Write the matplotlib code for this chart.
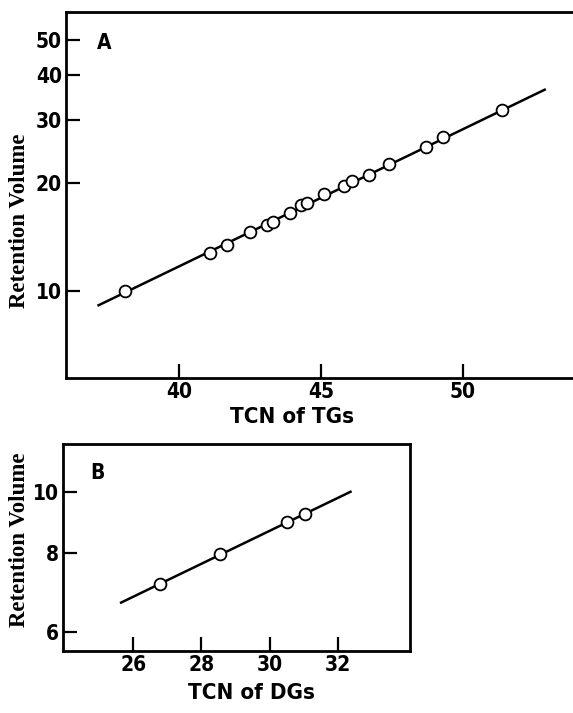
import matplotlib
matplotlib.use("Agg")
import matplotlib.pyplot as plt
from matplotlib.ticker import FixedLocator, FixedFormatter, NullLocator

# Panel A: triglycerides
tcn_tg = [38.1, 41.1, 41.7, 42.5, 43.1, 43.3, 43.9, 44.3, 44.5, 45.1, 45.8, 46.1, 46.7, 47.4, 48.7, 49.3, 51.4]
vol_tg = [10.0, 12.7, 13.4, 14.6, 15.2, 15.5, 16.5, 17.3, 17.6, 18.6, 19.6, 20.3, 21.0, 22.6, 25.2, 26.8, 32.0]
fit_tg_x = [37.15, 52.9]
fit_tg_y = [9.1, 36.4]
yticks_a = [10, 20, 30, 40, 50]
xticks_a = [40, 45, 50]

# Panel B: diglycerides
tcn_dg = [26.8, 28.55, 30.51, 31.03]
vol_dg = [7.16, 7.96, 8.95, 9.23]
fit_dg_x = [25.65, 32.36]
fit_dg_y = [6.68, 10.0]
yticks_b = [6, 8, 10]
xticks_b = [26, 28, 30, 32]

W, H = 573, 713
sans = dict(family='DejaVu Sans', fontstretch='condensed', fontweight='bold')

fig = plt.figure(figsize=(W / 100, H / 100), dpi=100)

axA = fig.add_axes([66 / W, 1 - 378 / H, (W - 66) / W, (378 - 12) / H])
axB = fig.add_axes([63 / W, 1 - 651 / H, (410 - 63) / W, (651 - 444) / H])


def style(ax, xt, yt):
    ax.set_yscale('log')
    ax.yaxis.set_major_locator(FixedLocator(yt))
    ax.yaxis.set_major_formatter(FixedFormatter([str(v) for v in yt]))
    ax.yaxis.set_minor_locator(NullLocator())
    ax.set_xticks(xt)
    ax.set_xticklabels([str(v) for v in xt])
    ax.tick_params(direction='in', length=10, width=1.6, pad=3)
    for lab in ax.get_xticklabels() + ax.get_yticklabels():
        lab.set_family('DejaVu Sans')
        lab.set_fontstretch('condensed')
        lab.set_fontweight('bold')
        lab.set_fontsize(15)
    for s in ax.spines.values():
        s.set_linewidth(2)


# panel A
axA.plot(fit_tg_x, fit_tg_y, color='black', lw=1.8, zorder=2)
axA.plot(tcn_tg, vol_tg, 'o', ms=8.5, mfc='white', mec='black', mew=1.3, zorder=3)
axA.set_xlim(36, 53.9)
axA.set_ylim(5.7, 60)
style(axA, xticks_a, yticks_a)
axA.spines['right'].set_visible(False)
axA.text(0.075, 0.915, 'A', transform=axA.transAxes, fontsize=15,
         ha='center', va='center', **sans)

# panel B
axB.plot(fit_dg_x, fit_dg_y, color='black', lw=1.8, zorder=2)
axB.plot(tcn_dg, vol_dg, 'o', ms=8.5, mfc='white', mec='black', mew=1.3, zorder=3)
axB.set_xlim(23.95, 34.1)
axB.set_ylim(5.6, 11.9)
style(axB, xticks_b, yticks_b)
axB.text(0.1, 0.86, 'B', transform=axB.transAxes, fontsize=15,
         ha='center', va='center', **sans)

# axis titles
fig.text(292 / W, 1 - 417 / H, 'TCN of TGs', fontsize=16, ha='center', va='center', **sans)
fig.text(252 / W, 1 - 693 / H, 'TCN of DGs', fontsize=16, ha='center', va='center', **sans)
fig.text(20 / W, 1 - 221 / H, 'Retention Volume', family='Liberation Serif', fontweight='bold',
         fontsize=16.5, rotation=90, ha='center', va='center')
fig.text(20 / W, 1 - 540 / H, 'Retention Volume', family='Liberation Serif', fontweight='bold',
         fontsize=16.5, rotation=90, ha='center', va='center')

fig.savefig('out.png', dpi=100)
